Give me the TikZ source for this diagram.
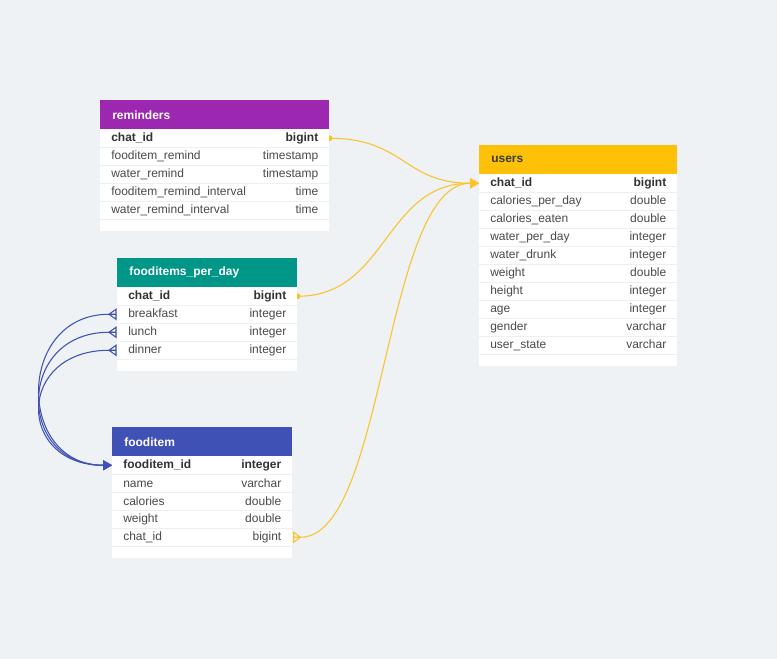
\documentclass[tikz,border=0pt]{standalone}
\usepackage{fontspec}
\setmainfont{Liberation Sans}
\usetikzlibrary{arrows.meta, calc}

\definecolor{canvas}{HTML}{EEF2F5}
\definecolor{remcol}{HTML}{9C27B0}
\definecolor{usercol}{HTML}{FFC107}
\definecolor{perdaycol}{HTML}{009688}
\definecolor{itemcol}{HTML}{3F51B5}
\definecolor{rowline}{HTML}{EDF0F3}
\definecolor{fieldtext}{HTML}{4A4A4A}
\definecolor{keytext}{HTML}{333333}
\definecolor{darkhead}{HTML}{3A3A3A}
\definecolor{linkyellow}{HTML}{FCC22A}
\definecolor{linkblue}{HTML}{3F51B5}

\pgfdeclarelayer{bg}
\pgfsetlayers{bg,main}

\tikzset{
  headbox/.style={anchor=north west, inner xsep=9pt, inner ysep=0pt,
    minimum height=21.75pt, align=left,
    font=\bfseries\fontsize{9}{11}\selectfont},
  rowbox/.style={anchor=north west, inner sep=0pt, minimum height=13.5pt,
    text=fieldtext},
  rowsep/.style={draw=rowline, line width=1pt},
  ylink/.style={draw=linkyellow, line width=0.8pt},
  blink/.style={draw=linkblue, line width=0.8pt},
  oneend/.style={-{Triangle[length=6.75pt, width=7.5pt]}},
  manyend/.pic={\draw[pic actions] (-1,-5) -- (-8,0) -- (-1,5) -- cycle (-8,0) -- (-1,0);}
}

% name, x, y, width, head fill, head text, title, rows, fields
\newcommand{\dbtable}[9]{%
  \pgfmathsetmacro\headw{(#4-24)*0.75}
  \pgfmathsetmacro\roww{(#4-22)*0.75}
  \node[headbox, fill=#5, text=#6, text width=\headw pt] (#1) at (#2,#3) {#7};
  \fill[white] (#2,#3+29) rectangle ++(#4,18*#8+12);
  \foreach \f/\t [count=\i] in {#9} {
    \node[rowbox, minimum width=#4*0.75pt, text width=\roww pt] (#1-\i)
      at (#2,#3+29+18*\i-18) {\ifnum\i=1\bfseries\color{keytext}\fi\f\hfill\t};
    \draw[rowsep] (#1-\i.south west) -- (#1-\i.south east);
  }
}

\begin{document}
\begin{tikzpicture}[x=0.75pt, y=-0.75pt, font=\fontsize{9}{11}\selectfont]

\dbtable{reminders}{100}{100}{229}{remcol}{white}{reminders}{5}{%
  chat\_id/bigint, fooditem\_remind/timestamp, water\_remind/timestamp,
  fooditem\_remind\_interval/time, water\_remind\_interval/time}

\dbtable{users}{479}{145}{198}{usercol}{darkhead}{users}{10}{%
  chat\_id/bigint, calories\_per\_day/double, calories\_eaten/double,
  water\_per\_day/integer, water\_drunk/integer, weight/double,
  height/integer, age/integer, gender/varchar, user\_state/varchar}

\dbtable{perday}{117}{258}{180}{perdaycol}{white}{fooditems\_per\_day}{4}{%
  chat\_id/bigint, breakfast/integer, lunch/integer, dinner/integer}

\dbtable{fooditem}{112}{427}{180}{itemcol}{white}{fooditem}{5}{%
  fooditem\_id/integer, name/varchar, calories/double, weight/double,
  chat\_id/bigint}

\begin{pgfonlayer}{bg}
\fill[canvas] (0,0) rectangle (777,659);

% chat_id references
\draw[ylink, oneend] (reminders-1.east) .. controls +(75,0) and +(-75,0) .. (users-1.west);
\draw[ylink, oneend] (perday-1.east) .. controls +(90,0) and +(-95,0) .. (users-1.west);
\draw[ylink, oneend] ($(fooditem-5.east)+(8,0)$) .. controls +(85,0) and +(-95,0) .. (users-1.west);
\fill[linkyellow] (reminders-1.east) circle (2.2pt);
\fill[linkyellow] (perday-1.east) circle (2.2pt);
\end{pgfonlayer}
\pic[draw=linkyellow, line width=0.8pt, xscale=-1] at (fooditem-5.east) {manyend};

% meals to fooditem
\foreach \r in {2,3,4} {
  \begin{pgfonlayer}{bg}
  \draw[blink, oneend] ($(perday-\r.west)+(-8,0)$) .. controls +(-93,0) and +(-96,0) .. (fooditem-1.west);
  \end{pgfonlayer}
  \pic[draw=linkblue, line width=0.8pt] at (perday-\r.west) {manyend};
}

\end{tikzpicture}
\end{document}
